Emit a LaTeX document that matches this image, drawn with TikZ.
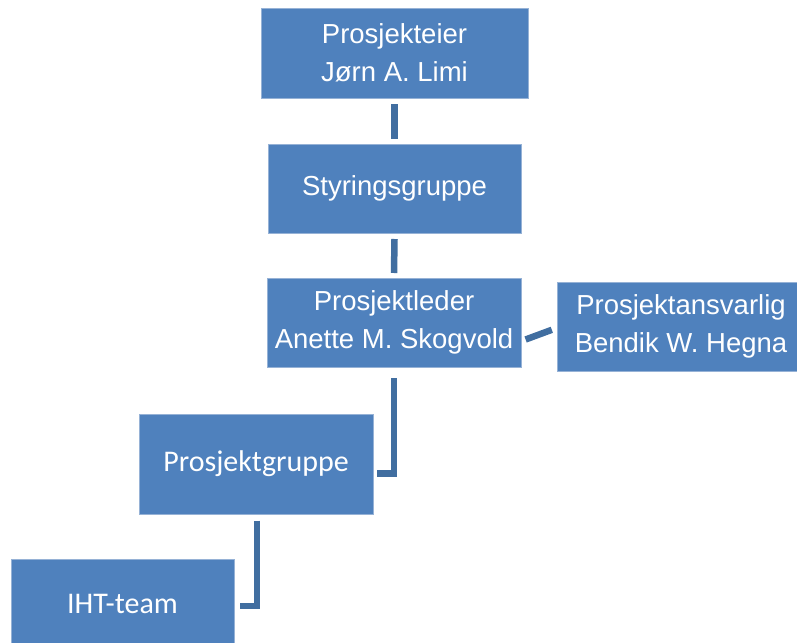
\documentclass[tikz,border=0pt]{standalone}
\usepackage{fontspec}
\setmainfont{Liberation Sans}
\newfontfamily\calibfont{Carlito}
\usetikzlibrary{calc}
\definecolor{boxblue}{RGB}{79,129,189}
\definecolor{boxedge}{RGB}{150,178,214}
\definecolor{linkblue}{RGB}{65,110,160}
\tikzset{
  orgbox/.style={rectangle, fill=boxblue, draw=boxedge, line width=0.8pt,
    text=white, align=center, inner sep=0pt, outer sep=0pt,
    font=\fontsize{27.5}{38.5}\selectfont},
  calbox/.style={orgbox, font=\calibfont\fontsize{30}{36}\selectfont},
  link/.style={draw=linkblue, line width=6.5pt, line cap=butt, line join=miter}
}
\begin{document}
\begin{tikzpicture}[x=1pt,y=-1pt]
\useasboundingbox (0,0) rectangle (797,642);
\clip (0,0) rectangle (797,642);
\node[orgbox, minimum width=267pt, minimum height=90pt] (eier) at (394.5,53) {Prosjekteier\\Jørn A. Limi};
\node[orgbox, minimum width=253pt, minimum height=89pt] (styr) at (394.5,188.5) {Styringsgruppe};
\node[orgbox, minimum width=254pt, minimum height=89pt] (leder) at (394,322.5) {Prosjektleder\\Anette M. Skogvold};
\node[orgbox, minimum width=248pt, minimum height=89pt] (ansv) at (681,326.5) {Prosjektansvarlig\\Bendik W. Hegna};
\node[calbox, minimum width=234pt, minimum height=100pt] (gruppe) at (256,464) {Prosjektgruppe};
\node[calbox, minimum width=223pt, minimum height=89pt] (iht) at (122.5,604) {IHT-team};
\draw[link] ($(eier.south)+(0,6)$) -- ($(styr.north)+(0,-5)$);
\draw[link] ($(styr.south)+(0,6)$) -- ($(leder.north)+(0,-5)$);
\draw[link] ($(leder.east)+(4.6,17)$) -- ($(ansv.west)+(-5.2,3.3)$);
\draw[link] ($(leder.south)+(0,11)$) |- ($(gruppe.east)+(4,9.5)$);
\draw[link] ($(gruppe.south)+(1,6.5)$) |- ($(iht.east)+(6,2)$);
\end{tikzpicture}
\end{document}
